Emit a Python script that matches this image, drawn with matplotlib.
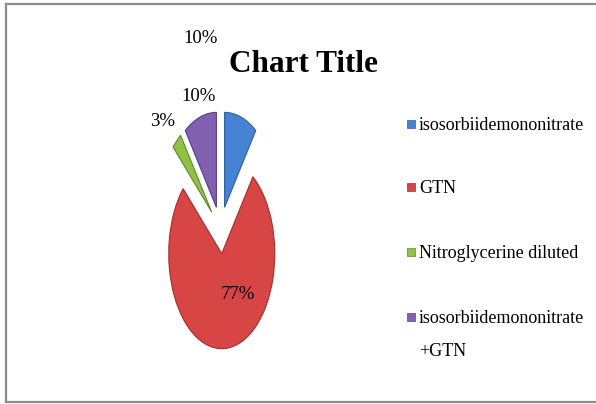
import matplotlib.pyplot as plt
from matplotlib.patches import Rectangle
from matplotlib.lines import Line2D

# data
labels = ["isosorbiidemononitrate", "GTN", "Nitroglycerine diluted",
          "isosorbiidemononitrate\n+GTN"]
values = [10, 77, 3, 10]
colors = ["#4683d3", "#d84545", "#8fc147", "#8160b0"]
edges = ["#2f5f9e", "#a32f2f", "#5f8a2a", "#5a3f85"]

# percent label positions (data units, pie centre = 0,0)
label_xy = [(-0.37, 2.02), (0.33, -0.68), (-1.10, 1.14), (-0.41, 1.41)]

W, H = 596, 404
cx, cy = 220.5, 230      # pie centre in pixels (from top-left)
sx, sy = 53.0, 95.0      # pixels per data unit

fig = plt.figure(figsize=(W / 100, H / 100), dpi=100)
ax = fig.add_axes([0, 0, 1, 1])

wedges, texts, autotexts = ax.pie(
    values,
    colors=colors,
    startangle=90,
    counterclock=False,
    explode=[0.25] * len(values),
    autopct="%1.0f%%",
    wedgeprops=dict(linewidth=0.8),
    textprops=dict(family="Liberation Serif", fontsize=13.5, color="black"),
)
for w, ec in zip(wedges, edges):
    w.set_edgecolor(ec)
for t, (x, y) in zip(autotexts, label_xy):
    t.set_position((x, y))
    t.set_ha("center")
    t.set_va("center")

ax.set_aspect("auto")
ax.set_xlim(-cx / sx, (W - cx) / sx)
ax.set_ylim((cy - H) / sy, cy / sy)
ax.axis("off")

# title
fig.text(303 / W, 1 - 65 / H, "Chart Title", fontsize=22.5, fontweight="bold",
         family="Liberation Serif", ha="center", va="center")

# legend drawn by hand so the marker sits on the first line
leg_y = [124, 187, 252, 317]
for lab, col, ec, y in zip(labels, colors, edges, leg_y):
    fig.patches.append(Rectangle((407 / W, 1 - (y + 4) / H), 8 / W, 8 / H,
                                 transform=fig.transFigure, facecolor=col,
                                 edgecolor=ec, linewidth=0.5))
    fig.text(419 / W, 1 - (y - 7) / H, lab, fontsize=13,
             family="Liberation Serif", ha="left", va="top", linespacing=2.2)

# frame (open on the right)
for xs, ys in [((6, 596), (3.5, 3.5)), ((6, 6), (3.5, 402)), ((6, 596), (402, 402))]:
    fig.lines.append(Line2D([x / W for x in xs], [1 - y / H for y in ys],
                            transform=fig.transFigure, color="#8c8c8c",
                            linewidth=1.6))

fig.savefig("out.png", dpi=100)
